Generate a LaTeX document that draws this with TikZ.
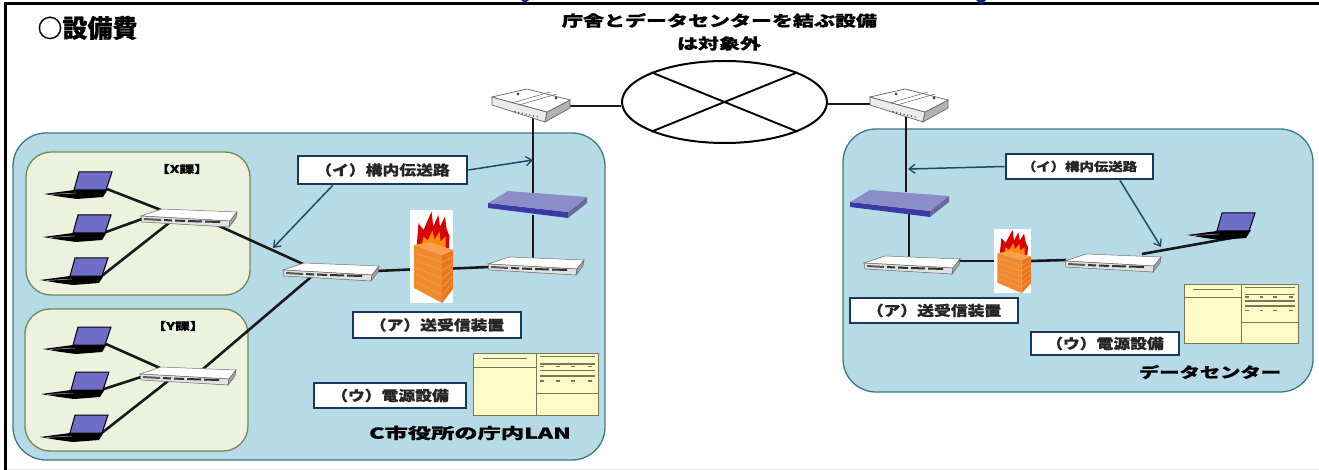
\documentclass[tikz,border=0pt]{standalone}
\usepackage{fontspec}
\usetikzlibrary{arrows.meta,calc,shapes.geometric}
\newfontfamily\jpa[FakeStretch=1.2,BoldFeatures={FakeBold=0.6}]{Noto Sans CJK JP}
\newfontfamily\jpb[FakeStretch=1.4,BoldFeatures={FakeBold=0.8}]{Noto Sans CJK JP}
\newfontfamily\jpc[FakeStretch=1.55,BoldFeatures={FakeBold=0.8}]{Noto Sans CJK JP}
\newfontfamily\jpn[BoldFeatures={FakeBold=0.5}]{Noto Sans CJK JP}
\newcommand{\fs}[1]{\fontsize{#1}{#1}\selectfont}
\definecolor{panelfill}{HTML}{B6DBE6}
\definecolor{panelline}{HTML}{3F7688}
\definecolor{groupfill}{HTML}{EDF2DF}
\definecolor{groupline}{HTML}{6F8A55}
\definecolor{labline}{HTML}{17375E}
\definecolor{arrowc}{HTML}{1C4A66}
\definecolor{screenc}{HTML}{6E6EC8}
\definecolor{hubtop}{HTML}{8C8CC8}
\definecolor{hubfront}{HTML}{3A3AA6}
\definecolor{pbfill}{HTML}{FFFBC6}
\definecolor{pbline}{HTML}{77775A}
\definecolor{brick}{HTML}{F08A30}
\definecolor{brickd}{HTML}{E87820}
\definecolor{brickl}{HTML}{F4A050}
\pgfdeclarelayer{panels}
\pgfdeclarelayer{wires}
\pgfsetlayers{panels,wires,main}
\tikzset{
  panel/.style={draw=panelline,line width=1.3pt,fill=panelfill,rounded corners=33pt,inner sep=0pt},
  groupbox/.style={draw=groupline,line width=1.3pt,fill=groupfill,rounded corners=25pt,inner sep=0pt},
  lab/.style={draw=labline,line width=2.6pt,fill=white,inner sep=0pt,text=black!85,font=\jpa\bfseries},
  wire/.style={line width=2.6pt,black!90},
  callout/.style={line width=1.5pt,arrowc,-{Straight Barb[length=6pt,width=9pt,line width=1.3pt]}},
  switch/.pic={
    \fill[white,draw=black!55,line width=.5pt] (-47,-1)--(-26,-8)--(49,-5)--(42,4)--cycle;
    \fill[black!12,draw=black!60,line width=.5pt] (-47,-1)--(42,4)--(41,10)--(-46,5)--cycle;
    \fill[black!35,draw=black!60,line width=.5pt] (42,4)--(49,-5)--(48,1)--(41,10)--cycle;
    \fill[black!65] (-44,1)--(-27,2)--(-27,4)--(-44,3)--cycle;
    \fill[black!80] (-24,2)--(-16,2.5)--(-16,4.5)--(-24,4)--cycle;
    \fill[black!80] (-13,2.5)--(-3,3)--(-3,5)--(-13,4.5)--cycle;
    \fill[black!80] (0,3)--(14,3.5)--(14,5.5)--(0,5)--cycle;
    \fill[black!80] (17,3.5)--(32,4)--(32,6)--(17,5.5)--cycle;
    \coordinate (-tl) at (-27,-7);
    \coordinate (-l) at (-46,2);
    \coordinate (-lh) at (-46,-2);
    \coordinate (-bl) at (-19,6);
    \coordinate (-br) at (29,8);
    \coordinate (-t) at (-2,-7);
    \coordinate (-tr) at (16,-6);
    \coordinate (-r) at (46,0);
    \coordinate (-rh) at (46,-3);
    \coordinate (-ur) at (30,-8);
  },
  router/.pic={
    \fill[black!8,draw=black!60,line width=.7pt] (-38,-8)--(-38,0)--(15,17)--(17,7)--cycle;
    \fill[black!30,draw=black!60,line width=.7pt] (17,7)--(15,17)--(40,3)--(40,-5)--cycle;
    \fill[white,draw=black!60,line width=.7pt] (-38,-8)--(-3,-16)--(40,-5)--(17,7)--cycle;
    \draw[black!55,line width=.6pt] (-18,-2)--(20,-13);
    \draw[black!55,line width=.6pt] (-11,0)--(27,-11);
    \fill[black!70] (-12,-11) circle (1.6);
    \fill[black!70] (26,-7) circle (1.6);
    \foreach \i in {0,...,6} \fill[black!65] ({-15+3.7*\i},{6.5+.9*\i}) circle (.8);
    \coordinate (-r) at (39,1);
    \coordinate (-l) at (-37,-1);
    \coordinate (-b) at (3,12);
    \coordinate (-bb) at (-2,12);
  },
  hub/.pic={
    \fill[hubfront] (-47,-2)--(33,7)--(33,13)--(-47,3)--cycle;
    \fill[hubtop!75!black] (33,7)--(52,-8)--(52,-2)--(33,13)--cycle;
    \fill[hubtop] (-47,-2)--(-27,-14)--(52,-8)--(33,7)--cycle;
    \coordinate (-t) at (-2,-12);
    \coordinate (-b) at (-2,10);
  },
  laptop/.pic={
    \fill[black] (-68,22)--(-38,18)--(-4,17)--(-9,25)--(-35,27)--(-50,25)--cycle;
    \fill[screenc,draw=black,line width=1pt] (-33,0)--(0,0)--(-6,18)--(-38,18)--cycle;
    \draw[white!70!black,line width=.5pt] (-62,22.5)--(-36,21);
    \coordinate (-r) at (-5,17);
    \coordinate (-d) at (-18,24);
  },
  firewall/.pic={
    \fill[white] (-21.5,-46.5) rectangle (21.5,46.5);
    \fill[red!85!black] (-14.8,-10)--(-13,-33.2)--(-8,-26.5)--(0,-44.8)--(1.8,-29.8)--(6.8,-41.5)--(8.5,-29.8)--(13.5,-39.8)--(15,-28)--(18,-20)--(17,-5)--cycle;
    \fill[orange!90!yellow] (-10,-10)--(-8,-20)--(-4,-16)--(1,-26)--(3,-17)--(8,-25)--(9,-15)--(14,-20)--(14,-5)--cycle;
    \fill[brick] (-17.5,-11.5)--(-17.5,31.5)--(10.5,46.5)--(10.5,-1.5)--cycle;
    \fill[brickd] (10.5,-1.5)--(10.5,46.5)--(21.5,32.5)--(21.5,-6.5)--cycle;
    \fill[brickl] (-17.5,-11.5)--(-1.5,-14.5)--(21.5,-6.5)--(10.5,-1.5)--cycle;
    \foreach \k in {1,...,5} \draw[brickl,line width=.5pt] (-17.5,{-11.5+7.2*\k})--(10.5,{-1.5+8*\k})--(21.5,{-6.5+6.5*\k});
    \coordinate (-l) at (-21.5,13);
    \coordinate (-r) at (21.5,12);
    \coordinate (-lc) at (-21.5,0);
    \coordinate (-rc) at (21.5,0);
  },
  powerbox/.pic={
    \fill[pbfill,draw=pbline,line width=1pt] (0,0) rectangle (125,62);
    \draw[pbline,line width=1pt] (63,0)--(63,62) (0,14)--(63,14) (63,40.3)--(125,40.3);
    \draw[pbline,line width=1.5pt] (9.7,5.7)--(53.7,5.7) (67,3.7)--(122,3.7) (67,11)--(122,11) (67,17.7)--(122,17.7) (67,23)--(122,23);
    \foreach \y in {13.5,27.7} \foreach \x in {69,85,100,117} \draw[pbline,line width=1.6pt] (\x-2,\y)--(\x+2,\y);
  }
}
\begin{document}
\begin{tikzpicture}[x=1pt,y=-1pt]
\useasboundingbox (0,0) rectangle (1319,470);
\begin{pgfonlayer}{panels}
\fill[white] (0,0) rectangle (1319,470);
\node[panel,minimum width=592pt,minimum height=327pt] (lan) at (309,296.5) {};
\node[panel,minimum width=470pt,minimum height=263pt] (dc) at (1078,260.5) {};
\node[groupbox,minimum width=224pt,minimum height=143pt] (gx) at (138,223.5) {};
\node[groupbox,minimum width=223pt,minimum height=142pt] (gy) at (136.5,380) {};
\end{pgfonlayer}

% title texts
\node[font=\jpn\bfseries\fs{25},inner sep=0pt,anchor=center] (ttl) at (87.5,28) {○設備費};
\node[font=\jpb\bfseries\fs{15},inner sep=0pt] (note1) at (719.5,20.5) {庁舎とデータセンターを結ぶ設備};
\node[font=\jpb\bfseries\fs{15},inner sep=0pt] (note2) at (719,43.5) {は対象外};
\node[font=\jpc\bfseries\fs{15},inner sep=0pt] (lanname) at (470,433) {C市役所の庁内LAN};
\node[font=\jpb\bfseries\fs{14.5},inner sep=0pt] (dcname) at (1210,372) {データセンター};
\node[font=\jpb\bfseries\fs{10.5},inner sep=0pt] (xka) at (182,169) {【X課】};
\node[font=\jpb\bfseries\fs{10.5},inner sep=0pt] (yka) at (178,326) {【Y課】};

% WAN cloud
\node[draw,line width=2pt,ellipse,minimum width=205pt,minimum height=82pt,inner sep=0pt,fill=white] (wan) at (724.5,102) {};
\draw[line width=1.9pt] (wan.north west) -- (wan.south east);
\draw[line width=1.9pt] (wan.south west) -- (wan.north east);

% devices
\pic (swx) at (188,217) {switch};
\pic (swy) at (187,375) {switch};
\pic (swc) at (330,271) {switch};
\pic (swo) at (535,265) {switch};
\pic (swd) at (911,264) {switch};
\pic (swe) at (1112,262) {switch};
\pic (rl) at (530,105) {router};
\pic (rr) at (908,105) {router};
\pic (hl) at (535,205) {hub};
\pic (hr) at (897,204) {hub};
\pic (fl) at (431.5,256.5) {firewall};
\pic[xscale=.86,yscale=.69] (fr) at (1012.5,261) {firewall};
\pic (x1) at (112,172) {laptop};
\pic (x2) at (111,215) {laptop};
\pic (x3) at (108,258) {laptop};
\pic (y1) at (111,327) {laptop};
\pic (y2) at (109,372) {laptop};
\pic (y3) at (108,415) {laptop};
\pic (ld) at (1255,213) {laptop};
\pic at (473,353) {powerbox};
\pic[xscale=.912,yscale=.952] at (1184,284) {powerbox};

% wires
\begin{pgfonlayer}{wires}
\draw[wire] (x1-r) -- (swx-tl);
\draw[wire] (x2-r) -- (swx-l);
\draw[wire] (x3-r) -- (swx-bl);
\draw[wire] (y1-r) -- (swy-tl);
\draw[wire] (y2-r) -- (swy-l);
\draw[wire] (y3-r) -- (swy-bl);
\draw[wire] (swx-br) -- (swc-tl);
\draw[wire] (swy-tr) -- (swc-bl);
\draw[wire] (swc-r) -- (fl-l);
\draw[wire] (fl-r) -- (swo-l);
\draw[wire] (swo-t) -- (hl-b);
\draw[wire] (hl-t) -- (rl-b);
\draw[wire,line width=2.2pt] (rl-r) -- (wan.west |- rl-r);
\draw[wire,line width=2.2pt] (wan.east |- rr-l) -- (rr-l);
\draw[wire] (rr-bb) -- (rr-bb |- hr-t);
\draw[wire] (hr-b -| swd-t) -- (swd-t);
\draw[wire] (swd-rh) -- (fr-lc);
\draw[wire] (fr-rc) -- (swe-lh);
\draw[wire] (swe-ur) -- (ld-d);
\end{pgfonlayer}

% labels
\node[lab,font=\jpa\bfseries\fs{14},minimum width=169pt,minimum height=28pt] (ia) at (382.5,170) {（イ）構内伝送路};
\node[lab,font=\jpa\bfseries\fs{14},minimum width=168pt,minimum height=26pt] (aa) at (437,325) {（ア）送受信装置};
\node[lab,font=\jpa\bfseries\fs{14},minimum width=152pt,minimum height=25pt] (ua) at (390,395.5) {（ウ）電源設備};
\node[lab,font=\jpa\bfseries\fs{12},minimum width=147pt,minimum height=25pt] (ib) at (1079.5,166.5) {（イ）構内伝送路};
\node[lab,font=\jpa\bfseries\fs{14},minimum width=168pt,minimum height=25pt] (ab) at (934,310.5) {（ア）送受信装置};
\node[lab,font=\jpa\bfseries\fs{14},minimum width=148pt,minimum height=23pt] (ub) at (1105,343.5) {（ウ）電源設備};

% callouts
\coordinate (c1) at (533,160);
\coordinate (c2) at (273,248);
\coordinate (c3) at (908,169);
\coordinate (c4) at (1161,247);
\draw[callout] (ia.east) -- (c1);
\draw[callout] ($(ia.south west)!.21!(ia.south east)$) -- (c2);
\draw[callout] (ib.west) -- (c3);
\draw[callout] ($(ib.south west)!.77!(ib.south east)$) -- (c4);

% frame
\fill[black] (4,2) rectangle (1319,5);
\fill[black] (4,2) rectangle (7,470);
\fill[black!8] (7,469) rectangle (1319,470);
\fill[labline!70!blue] (521,0)--(529,0)--(525,3)--cycle;
\fill[labline!70!blue] (976,0)--(986,0)--(981,5)--cycle;
\end{tikzpicture}
\end{document}
